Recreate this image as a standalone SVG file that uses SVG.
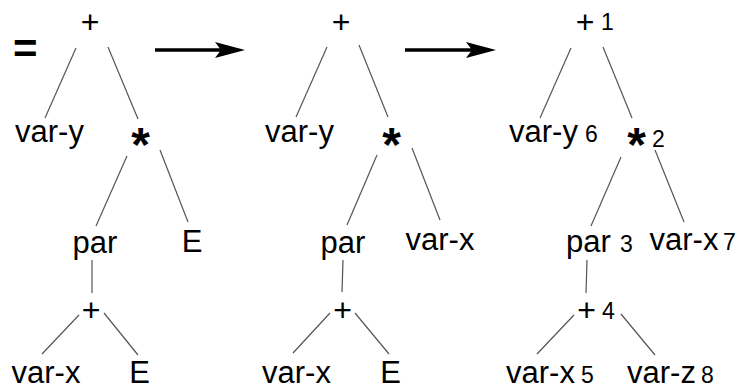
<svg xmlns="http://www.w3.org/2000/svg" width="744" height="392" viewBox="0 0 744 392">
<style>
text{font-family:"Liberation Sans",Arial,sans-serif;fill:#000}
.lbl{font-size:31px;text-anchor:middle}
.op{font-size:32px;text-anchor:middle}
.ast{font-size:48px;font-weight:bold;text-anchor:middle}
.num{font-size:23px}
.eq{font-size:42px;font-weight:bold}
.edge{stroke:#555;stroke-width:1.2;fill:none}
.arr{stroke:#000;stroke-width:3.5;fill:none}
</style>
<rect width="744" height="392" fill="#fff"/>
<g id="equals"><text class="eq" x="13" y="63">=</text></g>
<g id="connectors">
<line class="edge" x1="76" y1="48" x2="45" y2="118"/>
<line class="edge" x1="108" y1="47" x2="138" y2="119"/>
<line class="edge" x1="127" y1="156" x2="96" y2="226"/>
<line class="edge" x1="160" y1="150" x2="188" y2="222"/>
<line class="edge" x1="92" y1="260" x2="92" y2="293"/>
<line class="edge" x1="79" y1="315" x2="42" y2="354"/>
<line class="edge" x1="104" y1="313" x2="138" y2="355"/>
<line class="edge" x1="327" y1="47" x2="296" y2="117"/>
<line class="edge" x1="359" y1="45" x2="388" y2="117"/>
<line class="edge" x1="377" y1="155" x2="347" y2="225"/>
<line class="edge" x1="412" y1="148" x2="440" y2="220"/>
<line class="edge" x1="343" y1="260" x2="342" y2="292"/>
<line class="edge" x1="330" y1="313" x2="293" y2="353"/>
<line class="edge" x1="355" y1="313" x2="389" y2="354"/>
<line class="edge" x1="571" y1="48" x2="540" y2="118"/>
<line class="edge" x1="603" y1="47" x2="632" y2="118"/>
<line class="edge" x1="621" y1="157" x2="591" y2="226"/>
<line class="edge" x1="655" y1="150" x2="684" y2="222"/>
<line class="edge" x1="587" y1="260" x2="586" y2="293"/>
<line class="edge" x1="574" y1="315" x2="537" y2="354"/>
<line class="edge" x1="621" y1="314" x2="655" y2="355"/>
<line class="arr" x1="155" y1="50" x2="222" y2="50"/>
<polygon points="245,50 215,42 221,50 215,58" fill="#000"/>
<line class="arr" x1="405" y1="50" x2="473" y2="50"/>
<polygon points="496,50 466,42 472,50 466,58" fill="#000"/>
</g>
<g id="t1-plus"><text class="op" x="90" y="33">+</text></g>
<g id="t1-vary"><text class="lbl" x="49.5" y="142">var-y</text></g>
<g id="t1-times"><text class="ast" x="140.5" y="161">*</text></g>
<g id="t1-par"><text class="lbl" x="95" y="253">par</text></g>
<g id="t1-E1"><text class="lbl" x="192" y="252">E</text></g>
<g id="t1-plus2"><text class="op" x="91" y="321">+</text></g>
<g id="t1-varx"><text class="lbl" x="46" y="383">var-x</text></g>
<g id="t1-E2"><text class="lbl" x="139.5" y="383">E</text></g>

<g id="t2-plus"><text class="op" x="341" y="33">+</text></g>
<g id="t2-vary"><text class="lbl" x="299.5" y="142">var-y</text></g>
<g id="t2-times"><text class="ast" x="391.5" y="161">*</text></g>
<g id="t2-par"><text class="lbl" x="343" y="253">par</text></g>
<g id="t2-varx1"><text class="lbl" x="440" y="250">var-x</text></g>
<g id="t2-plus2"><text class="op" x="342.5" y="321">+</text></g>
<g id="t2-varx2"><text class="lbl" x="296.5" y="383">var-x</text></g>
<g id="t2-E"><text class="lbl" x="390.5" y="383">E</text></g>

<g id="t3-plus"><text class="op" x="585" y="33">+</text><text class="num" x="601" y="30">1</text></g>
<g id="t3-vary"><text class="lbl" x="543.5" y="142">var-y</text><text class="num" x="585" y="142">6</text></g>
<g id="t3-times"><text class="ast" x="636.5" y="161">*</text><text class="num" x="652" y="147">2</text></g>
<g id="t3-par"><text class="lbl" x="588.5" y="252">par</text><text class="num" x="620" y="252">3</text></g>
<g id="t3-varx1"><text class="lbl" x="684" y="250">var-x</text><text class="num" x="723" y="250">7</text></g>
<g id="t3-plus2"><text class="op" x="586.5" y="321">+</text><text class="num" x="602" y="319">4</text></g>
<g id="t3-varx2"><text class="lbl" x="540.5" y="383">var-x</text><text class="num" x="581" y="383">5</text></g>
<g id="t3-varz"><text class="lbl" x="661.5" y="383">var-z</text><text class="num" x="701" y="383">8</text></g>
</svg>
